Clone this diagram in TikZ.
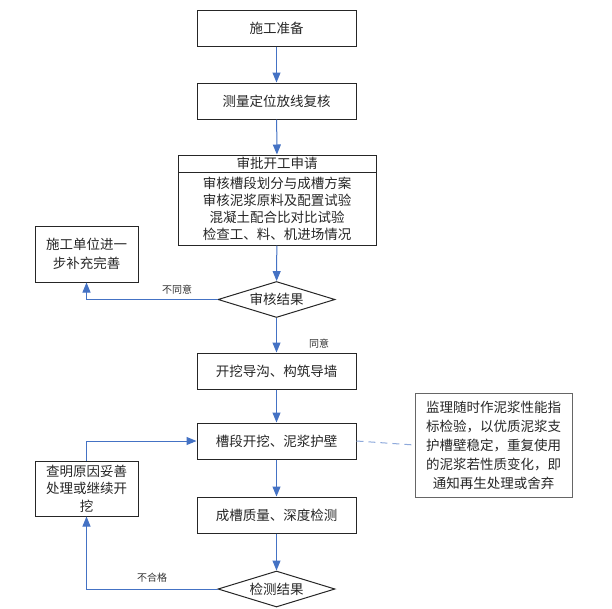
\documentclass[tikz,border=0pt]{standalone}
\usepackage{fontspec}
\setmainfont{Noto Sans CJK SC}
\usetikzlibrary{shapes.geometric,arrows.meta}
\definecolor{lb}{HTML}{4472C4}
\definecolor{lbd}{HTML}{8EA9DB}
\begin{document}
\begin{tikzpicture}[x=1pt,y=-1pt,
  box/.style={draw=black!85, line width=1pt, minimum width=159pt, minimum height=36pt,
    inner sep=0pt, font=\fontsize{13.5}{17}\selectfont, align=center, text=black!85},
  sidebox/.style={draw=black!85, line width=1pt, minimum width=103pt, inner sep=0pt,
    font=\fontsize{13.5}{19}\selectfont, align=center, text=black!85},
  dia/.style={diamond, draw=black!85, line width=1pt, aspect=3.25, minimum width=117pt,
    minimum height=36pt, inner sep=0pt, font=\fontsize{13.5}{15}\selectfont, text=black!85},
  arr/.style={draw=lb, line width=1pt, -{Triangle[length=10pt,width=8pt]}},
  lbl/.style={font=\fontsize{10}{11}\selectfont, text=black!80, inner sep=0pt}
]
\useasboundingbox (0,0) rectangle (612,608);

\node[box] (n1) at (276.5,28) {施工准备};
\node[box] (n2) at (276.5,101) {测量定位放线复核};
\node[box, minimum width=198pt, minimum height=17pt] (n3h) at (277,163.5) {审批开工申请};
\node[box, minimum width=198pt, minimum height=73pt] (n3b) at (277,208.5)
  {审核槽段划分与成槽方案\\审核泥浆原料及配置试验\\混凝土配合比对比试验\\检查工、料、机进场情况};
\node[sidebox, minimum height=56pt] (L1) at (86.5,254) {施工单位进一\\步补充完善};
\node[dia] (d1) at (276.5,299.5) {审核结果};
\node[box] (n4) at (276.5,371) {开挖导沟、构筑导墙};
\node[box] (n5) at (276.5,441) {槽段开挖、泥浆护壁};
\node[draw=black!60, line width=1pt, minimum width=157pt, minimum height=104pt, inner sep=0pt,
  font=\fontsize{13.5}{19}\selectfont, align=center, text=black!85] (note) at (493.5,445)
  {监理随时作泥浆性能指\\标检验，以优质泥浆支\\护槽壁稳定，重复使用\\的泥浆若性质变化，即\\通知再生处理或舍弃};
\node[sidebox, minimum height=55pt, font=\fontsize{13.5}{17.5}\selectfont] (L2) at (86.5,488.5) {查明原因妥善\\处理或继续开\\挖};
\node[box] (n6) at (276.5,515) {成槽质量、深度检测};
\node[dia] (d2) at (276.5,589) {检测结果};

\draw[arr] (n1) -- (n2);
\draw[arr] (n2) -- (n3h);
\draw[arr] (n3b) -- (d1);
\draw[arr] (d1) -- (n4);
\draw[arr] (n4) -- (n5);
\draw[arr] (n5) -- (n6);
\draw[arr] (n6) -- (d2);
\draw[arr] (d1.west) -| (L1.south);
\draw[arr] (d2.west) -| (L2.south);
\draw[arr] (L2.north) |- (n5.west);
\draw[draw=lbd, line width=1pt, dash pattern=on 7pt off 5pt] (n5.east) -- (note.west);

\node[lbl] (t1) at (177,290) {不同意};
\node[lbl] (t2) at (319,344) {同意};
\node[lbl] (t3) at (152,578) {不合格};
\end{tikzpicture}
\end{document}
